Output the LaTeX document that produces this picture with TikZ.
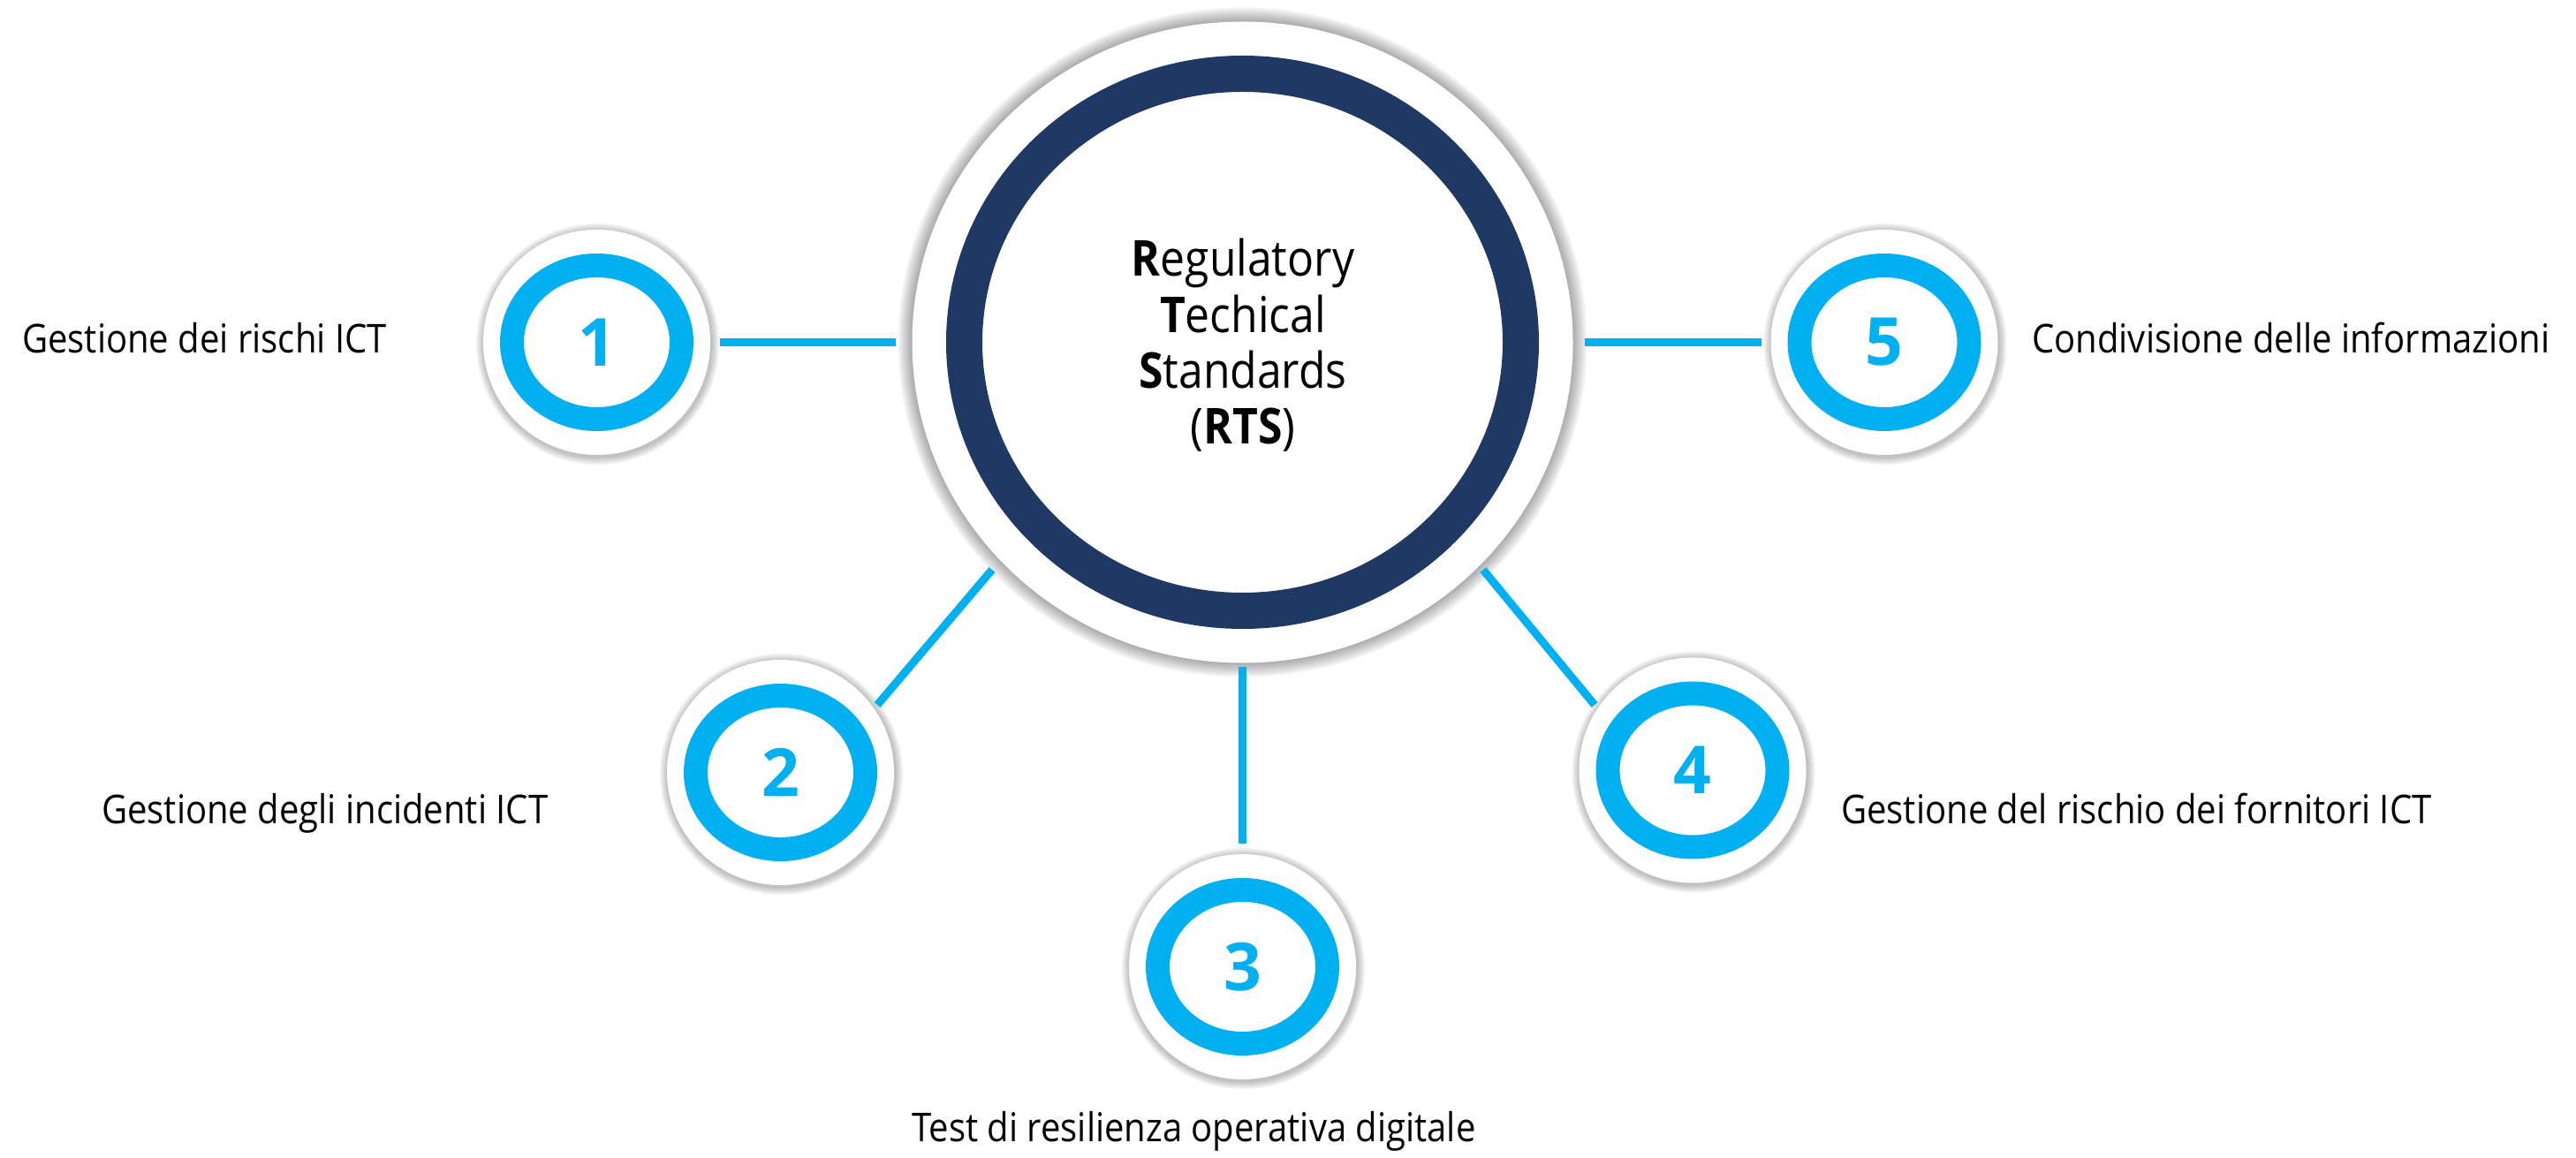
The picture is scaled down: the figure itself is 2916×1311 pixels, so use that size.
\documentclass[tikz,border=0pt]{standalone}
\usepackage{fontspec}
\setmainfont{Open Sans}[FakeStretch=0.89]
\newfontfamily\digitfont{Open Sans}
\usetikzlibrary{calc,shapes.geometric,backgrounds}
\definecolor{ringblue}{HTML}{00B0F0}
\definecolor{navy}{HTML}{1F3864}
\begin{document}
\begin{tikzpicture}[x=1pt,y=1pt,
  disk/.style={ellipse, fill=white, inner sep=0pt, minimum width=257pt, minimum height=255pt},
  hubdisk/.style={ellipse, fill=white, inner sep=0pt, minimum width=748pt, minimum height=726pt},
  numtext/.style={font=\digitfont\bfseries\fontsize{75}{75}\selectfont, text=ringblue},
  ring/.style={draw=ringblue, line width=27pt},
  hubring/.style={draw=navy, line width=41pt},
  conn/.style={draw=ringblue, line width=9pt},
  sidetext/.style={anchor=base west, inner sep=0pt, font=\fontsize{45}{54}\selectfont},
  hubline/.style={anchor=base, inner sep=0pt, font=\fontsize{56}{64}\selectfont},
]
\useasboundingbox (0,0) rectangle (2916,1311);

% central hub and the five numbered discs
\node[hubdisk] (hub) at (1406.5,923.5) {};
\node[disk, numtext] (c1) at (675.5,923.5) {1};
\node[disk, numtext] (c2) at (883.5,436.5) {2};
\node[disk, numtext] (c3) at (1406.5,216.5) {3};
\node[disk, numtext] (c4) at (1916,439) {4};
\node[disk, numtext] (c5) at (2133,923.5) {5};

% coloured rings
\draw[hubring] (hub) ellipse [x radius=315, y radius=304];
\foreach \n in {c1,c2,c3,c4,c5}
  \draw[ring] (\n) ellipse [x radius=96, y radius=87];

% hub title
\node[hubline] (t1) at (1407,998) {\textbf{R}egulatory};
\node[hubline] (t2) at (1407,934) {\textbf{T}echical};
\node[hubline] (t3) at (1407,871) {\textbf{S}tandards};
\node[hubline] (t4) at (1407,808) {(\textbf{RTS})};

% spokes
\draw[conn] ($(c1)+(139,0)$) -- ($(hub)+(-393,0)$);
\draw[conn] ($(c2)+(34.9:133.6)$) -- ($(hub)+(222.25:383)$);
\draw[conn] ($(hub)+(0,-368)$) -- ($(c3)+(0,139.5)$);
\draw[conn] ($(hub)+(316.6:375)$) -- ($(c4)+(146.3:133.4)$);
\draw[conn] ($(hub)+(387,0)$) -- ($(c5)+(-139,0)$);

% captions
\node[sidetext] (l1) at (25,911) {Gestione dei rischi ICT};
\node[sidetext] (l2) at (115,378) {Gestione degli incidenti ICT};
\node[sidetext] (l3) at (1032,18) {Test di resilienza operativa digitale};
\node[sidetext] (l4) at (2084,378) {Gestione del rischio dei fornitori ICT};
\node[sidetext] (l5) at (2300,911) {Condivisione delle informazioni};

% soft halos behind the discs
\begin{scope}[on background layer]
  \fill[white] (0,0) rectangle (2916,1311);
  \foreach \i in {1,...,8}
    \fill[black, opacity=0.045] (hub) ellipse [x radius={374+2*\i}, y radius={363+2*\i}];
  \foreach \n in {c1,c2,c3,c4,c5}
    \foreach \i in {1,...,5}
      \fill[black, opacity=0.05] ($(\n)+(1,-2)$) ellipse [x radius={128.5+1.8*\i}, y radius={127.5+1.8*\i}];
\end{scope}
\end{tikzpicture}
\end{document}
